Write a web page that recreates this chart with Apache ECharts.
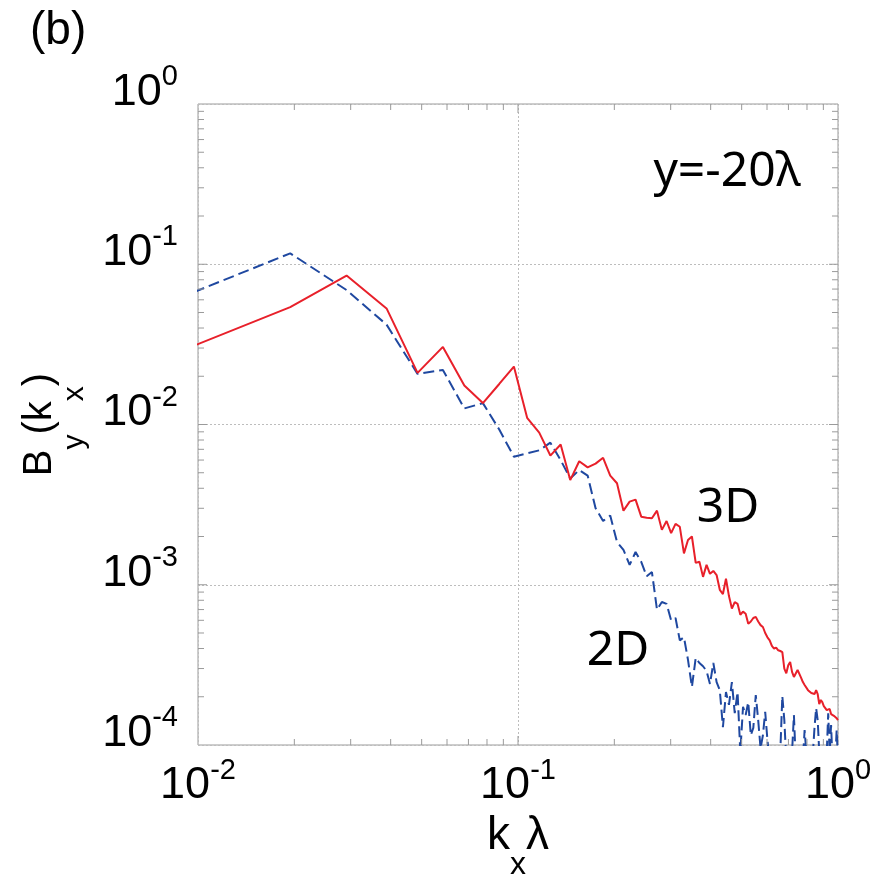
<!DOCTYPE html>
<html lang="en">
<head>
	<meta charset="UTF-8">
	<title>By spectrum</title>
	<script src="https://cdn.jsdelivr.net/npm/echarts@6/dist/echarts.min.js"></script>
	<style>
		html, body { margin: 0; padding: 0; background: #fff; }
	</style>
</head>
<body>
	<div id="chart" style="width: 885px; height: 879px"></div>

	<script>
		// spectrum sampled on modes n = 1..103, k_n = n / 103
		var modeCount = 103;

		// B_y(k_x), 3D run (red, solid)
		var spec3D = [
			0.031, 0.054, 0.085, 0.053, 0.021, 0.0305, 0.0175, 0.0136, 0.0179, 0.023,
			0.011, 0.0089, 0.0064, 0.0075, 0.0045, 0.0059, 0.0054, 0.0057, 0.0062, 0.0048,
			0.0043, 0.0029, 0.0033, 0.0034, 0.00266, 0.00262, 0.0026, 0.0029, 0.0022, 0.0025,
			0.0021, 0.0024, 0.0023, 0.00157, 0.0019, 0.0020, 0.00137, 0.00139, 0.00112, 0.00133,
			1.17e-3, 1.22e-3, 1.15e-3, 9.3e-4, 8.75e-4, 1.09e-3, 8.5e-4, 7.1e-4, 7.8e-4, 7.6e-4,
			6.5e-4, 6.8e-4, 6.6e-4, 5.7e-4, 5.9e-4, 6.2e-4, 6.3e-4, 5.9e-4, 5.6e-4, 5.45e-4,
			5.0e-4, 4.7e-4, 4.5e-4, 4.15e-4, 4.0e-4, 4.05e-4, 3.9e-4, 3.86e-4, 3.8e-4, 3.0e-4,
			2.8e-4, 3.15e-4, 3.3e-4, 2.86e-4, 2.66e-4, 2.73e-4, 2.94e-4, 2.86e-4, 2.62e-4, 2.47e-4,
			2.37e-4, 2.33e-4, 2.2e-4, 2.23e-4, 2.11e-4, 2.14e-4, 2.08e-4, 2.2e-4, 2.08e-4, 1.8e-4,
			1.91e-4, 1.85e-4, 1.75e-4, 1.7e-4, 1.65e-4, 1.61e-4, 1.68e-4, 1.56e-4, 1.58e-4, 1.52e-4,
			1.56e-4, 1.47e-4, 1.43e-4
		];

		// B_y(k_x), 2D run (blue, dashed)
		var spec2D = [
			0.067, 0.117, 0.069, 0.042, 0.0207, 0.0219, 0.0126, 0.0136, 0.0093, 0.0063,
			0.0066, 0.0069, 0.0077, 0.0060, 0.0046, 0.0052, 0.0048, 0.0030, 0.0025, 0.0027,
			0.00185, 0.00165, 0.00133, 0.0016, 0.00139, 0.00113, 0.0012, 0.0007, 0.00078, 0.00076,
			0.0006, 0.00062, 0.00045, 0.00047, 0.00034, 0.00023, 0.00035, 0.000325, 0.00031, 0.00029,
			0.00024, 0.000325, 0.000247, 0.00022, 0.000129, 0.000214, 0.000178, 0.000247, 0.000158, 0.000214,
			0.00009, 0.000173, 0.000154, 0.000185, 0.000115, 0.000128, 0.000205, 0.000143, 0.000095, 0.000115,
			0.000161, 0.000107, 0.00008, 0.00007, 0.00009, 0.00006, 0.00008, 0.00009, 0.000202, 0.000143,
			0.00008, 0.00009, 0.00007, 0.00009, 0.000154, 0.00008, 0.00007, 0.00009, 0.00006, 0.00008,
			0.000124, 0.00009, 0.00007, 0.00009, 0.00008, 0.00009, 0.000129, 0.00017, 0.000143, 0.00009,
			0.00008, 0.00009, 0.00007, 0.00008, 0.00009, 0.000158, 0.00009, 0.000133, 0.00008, 0.00009,
			0.00008, 0.000124, 0.00008
		];

		// axis ranges and tick positions
		var xRange = [0.01, 1];
		var yRange = [1e-4, 1];
		var xMajorTicks = [0.1];
		var yMajorTicks = [1e-3, 1e-2, 1e-1];
		var xMinorTicks = [0.02, 0.03, 0.04, 0.05, 0.06, 0.07, 0.08, 0.09,
			0.2, 0.3, 0.4, 0.5, 0.6, 0.7, 0.8, 0.9];
		var yMinorTicks = [2e-4, 3e-4, 4e-4, 5e-4, 6e-4, 7e-4, 8e-4, 9e-4,
			2e-3, 3e-3, 4e-3, 5e-3, 6e-3, 7e-3, 8e-3, 9e-3,
			0.02, 0.03, 0.04, 0.05, 0.06, 0.07, 0.08, 0.09,
			0.2, 0.3, 0.4, 0.5, 0.6, 0.7, 0.8, 0.9];

		var SANS = '"Liberation Sans", Arial, sans-serif';
		var NOTO = '"Noto Sans", "Open Sans", sans-serif';
		var frameColor = '#9a9a9a';

		var kx = [];
		for (var n = 1; n <= modeCount; n++) kx.push(n / modeCount);

		function pairs(vals) {
			return kx.map(function (k, i) { return [k, vals[i]]; });
		}

		function powLabel(v) {
			return '{b|10}{s|' + Math.round(Math.log10(v)) + '}';
		}

		var labelRich = {
			b: { fontSize: 45, lineHeight: 60, fontFamily: SANS, color: '#000' },
			s: { fontSize: 29, lineHeight: 29, verticalAlign: 'top', fontFamily: SANS, color: '#000' }
		};

		// tick marks drawn inward on all four sides of the frame
		var xTickData = xMinorTicks.map(function (v) { return [v, yRange[0], 0]; })
			.concat(xMajorTicks.map(function (v) { return [v, yRange[0], 1]; }));
		var yTickData = yMinorTicks.map(function (v) { return [xRange[0], v, 0]; })
			.concat(yMajorTicks.map(function (v) { return [xRange[0], v, 1]; }));

		function tickLine(x1, y1, x2, y2) {
			return { type: 'line', shape: { x1: x1, y1: y1, x2: x2, y2: y2 },
				style: { stroke: frameColor, lineWidth: 1 } };
		}

		var chart = echarts.init(document.getElementById('chart'));
		var option = {
			animation: false,
			backgroundColor: '#fff',
			grid: {
				left: 198, top: 104, right: 47, bottom: 134,
				containLabel: false,
				outerBoundsMode: 'none',
				show: true,
				borderColor: frameColor,
				borderWidth: 1
			},
			xAxis: {
				type: 'log',
				logBase: 10,
				min: xRange[0],
				max: xRange[1],
				axisLine: { show: false },
				axisTick: { show: false },
				splitLine: { show: true, lineStyle: { color: '#bdbdbd', type: [2, 2], width: 1 } },
				axisLabel: {
					margin: 11,
					showMinLabel: true,
					showMaxLabel: true,
					formatter: powLabel,
					rich: labelRich
				},
				// tall line box: main glyphs at its top, subscript at its bottom
				name: '{n|k}{s|x}{n|λ}',
				nameLocation: 'middle',
				nameGap: 68,
				nameMoveOverlap: false,
				nameTextStyle: {
					rich: {
						n: { fontSize: 46, lineHeight: 68, verticalAlign: 'top', fontFamily: SANS, color: '#000' },
						s: { fontSize: 32, lineHeight: 32, verticalAlign: 'bottom', fontFamily: SANS, color: '#000' }
					}
				}
			},
			yAxis: {
				type: 'log',
				logBase: 10,
				min: yRange[0],
				max: yRange[1],
				axisLine: { show: false },
				axisTick: { show: false },
				splitLine: { show: true, lineStyle: { color: '#bdbdbd', type: [2, 2], width: 1 } },
				axisLabel: {
					margin: 20,
					showMinLabel: true,
					showMaxLabel: true,
					verticalAlign: 'middle',
					padding: [0, 0, 23, 0],
					formatter: powLabel,
					rich: labelRich
				},
				name: '{n|B}{s|y}{n|(k}{s|x}{n|)}',
				nameLocation: 'middle',
				nameRotate: 90,
				nameGap: 108,
				nameMoveOverlap: false,
				nameTextStyle: {
					rich: {
						n: { fontSize: 40, lineHeight: 70, verticalAlign: 'top', fontFamily: SANS, color: '#000' },
						s: { fontSize: 30, lineHeight: 30, verticalAlign: 'bottom', fontFamily: SANS, color: '#000' }
					}
				}
			},
			series: [
				{
					name: '3D',
					type: 'line',
					data: pairs(spec3D),
					showSymbol: false,
					clip: true,
					lineStyle: { color: '#e8202a', width: 2 },
					z: 3
				},
				{
					name: '2D',
					type: 'line',
					data: pairs(spec2D),
					showSymbol: false,
					clip: true,
					lineStyle: { color: '#1f48a0', width: 2, type: [11, 5] },
					z: 2
				},
				{
					type: 'custom',
					silent: true,
					data: xTickData,
					renderItem: function (params, api) {
						var len = api.value(2) ? 9 : 6;
						var b = api.coord([api.value(0), yRange[0]]);
						var t = api.coord([api.value(0), yRange[1]]);
						return { type: 'group', children: [
							tickLine(b[0], b[1], b[0], b[1] - len),
							tickLine(t[0], t[1], t[0], t[1] + len)
						] };
					},
					z: 4
				},
				{
					type: 'custom',
					silent: true,
					data: yTickData,
					renderItem: function (params, api) {
						var len = api.value(2) ? 9 : 6;
						var l = api.coord([xRange[0], api.value(1)]);
						var r = api.coord([xRange[1], api.value(1)]);
						return { type: 'group', children: [
							tickLine(l[0], l[1], l[0] + len, l[1]),
							tickLine(r[0], r[1], r[0] - len, r[1])
						] };
					},
					z: 4
				}
			],
			graphic: [
				{ type: 'text', x: 30, y: 31, style: { text: '(b)', fontSize: 46, fontFamily: SANS, fill: '#000', align: 'left', verticalAlign: 'middle' } },
				{ type: 'text', x: 727, y: 172, style: { text: 'y=-20λ', fontSize: 48, fontFamily: NOTO, fill: '#000', align: 'center', verticalAlign: 'middle' } },
				{ type: 'text', x: 728, y: 508, style: { text: '3D', fontSize: 48, fontFamily: NOTO, fill: '#000', align: 'center', verticalAlign: 'middle' } },
				{ type: 'text', x: 618, y: 651, style: { text: '2D', fontSize: 48, fontFamily: NOTO, fill: '#000', align: 'center', verticalAlign: 'middle' } }
			]
		};
		chart.setOption(option);
	</script>
</body>
</html>
